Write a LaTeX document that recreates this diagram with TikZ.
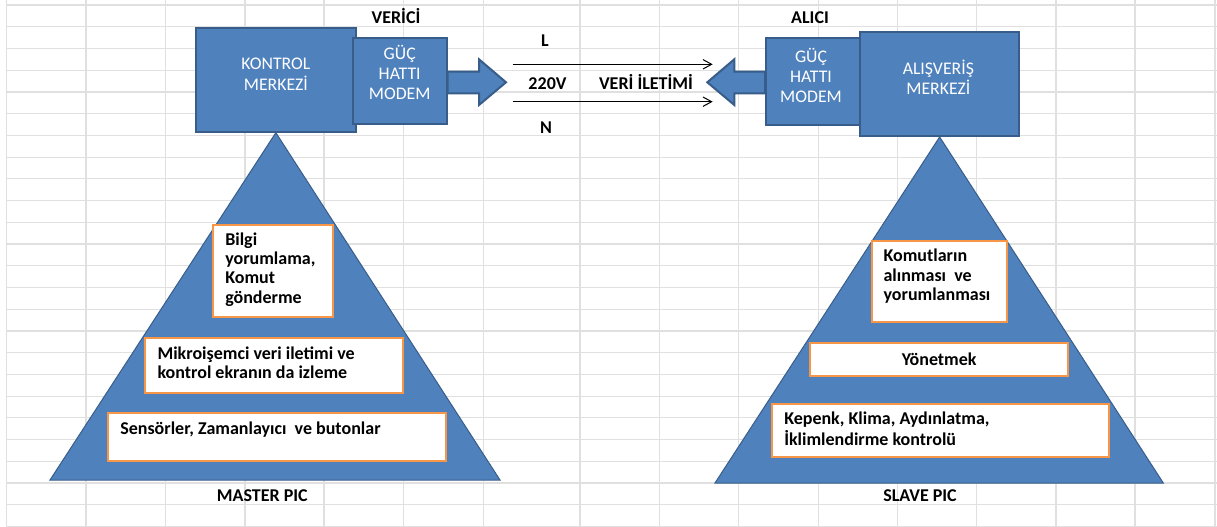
\documentclass[tikz,border=0pt]{standalone}
\usepackage{fontspec}
\setmainfont{Carlito}
\usetikzlibrary{arrows.meta,calc}
\definecolor{boxblue}{HTML}{4F81BD}
\definecolor{boxedge}{HTML}{385D8A}
\definecolor{orangeedge}{HTML}{F79646}
\definecolor{gridgray}{HTML}{E0E0E0}
\pgfdeclarelayer{sheet}
\pgfdeclarelayer{under}
\pgfsetlayers{sheet,under,main}
\begin{document}
\begin{tikzpicture}[x=0.75pt,y=-0.75pt,
  blueblock/.style={draw=boxedge, line width=1.5pt, fill=boxblue, inner sep=0pt},
  orangebox/.style={draw=orangeedge, line width=1.5pt, fill=white, inner sep=0pt},
  bluetext/.style={text=white, font=\fontsize{13.3}{15}\selectfont, inner sep=0pt, anchor=base},
  boxtext/.style={font=\bfseries\fontsize{13.5}{14.4}\selectfont, inner sep=0pt, anchor=base west},
  headtext/.style={font=\bfseries\fontsize{13.5}{14}\selectfont, inner sep=0pt, anchor=base},
  wire/.style={-{Straight Barb[length=6.5pt,width=7pt]}, line width=0.75pt},
  blockarrow/.style={draw=boxedge, line width=1.5pt, fill=boxblue, line join=miter},
  pyramid/.style={fill=boxblue, draw=boxedge, line width=0.75pt, line join=miter},
  sheetline/.style={draw=gridgray, line width=0.9pt}]

\useasboundingbox (0,0) rectangle (1217,527);

% spreadsheet cell grid
\begin{pgfonlayer}{sheet}
  \fill[white] (0,0) rectangle (1217,527);
  \foreach \gx in {6.7,86,165.7,245,324,403.3,483.3,580,659.3,738.3,818.3,897.3,976.7,1056,1135,1215}
    \draw[sheetline] ({\gx},0) -- ({\gx},527);
  \foreach \k in {0,...,24}
    \draw[sheetline] (6.7,{5+21.73*\k}) -- (1217,{5+21.73*\k});
\end{pgfonlayer}

% transmitter and receiver blocks
\node[blueblock, minimum width=119.8pt, minimum height=77.55pt] (kontrol) at (275.85,80) {};
\node[blueblock, minimum width=70.5pt, minimum height=64.3pt] (gucL) at (399.7,81.15) {};
\node[blueblock, minimum width=70.5pt, minimum height=65pt] (gucR) at (813,81.65) {};
\node[blueblock, minimum width=119.5pt, minimum height=78.2pt] (alis) at (939.65,83.85) {};

\node[bluetext] (kontrolT) at ([shift={(0,42.7)}]kontrol.north)
  {\begin{tabular}[t]{@{}c@{}}KONTROL\\MERKEZİ\end{tabular}};
\node[bluetext] (gucLT) at ([shift={(0,22.7)}]gucL.north)
  {\begin{tabular}[t]{@{}c@{}}GÜÇ\\HATTI\\MODEM\end{tabular}};
\node[bluetext] (gucRT) at ([shift={(-2,25.2)}]gucR.north)
  {\begin{tabular}[t]{@{}c@{}}GÜÇ\\HATTI\\MODEM\end{tabular}};
\node[bluetext] (alisT) at ([shift={(-1.3,43.6)}]alis.north)
  {\begin{tabular}[t]{@{}c@{}}ALIŞVERİŞ\\MERKEZİ\end{tabular}};

% block arrows out of the modems and pyramids under the centres
\begin{pgfonlayer}{under}
  \draw[blockarrow] ([shift={(0,-9.45)}]gucL.east) -- ++(31.3,0) -- ++(0,-12.4)
    -- ++(27,23) -- ++(-27,22.7) -- ++(0,-11.7) -- ++(-31.3,0) -- cycle;
  \draw[blockarrow] ([shift={(0,-9.95)}]gucR.west) -- ++(-30.7,0) -- ++(0,-12.4)
    -- ++(-27,23) -- ++(27,22.7) -- ++(0,-11.7) -- ++(30.7,0) -- cycle;
  \draw[pyramid] (kontrol.south) -- (500,480) -- (50,480) -- cycle;
  \draw[pyramid] (alis.south) -- (1163.3,483) -- (715,483) -- cycle;
\end{pgfonlayer}

% power line wires
\coordinate (Lstart) at (512.7,64.3);
\coordinate (Lend) at (712.7,64.3);
\coordinate (Nstart) at (512.7,101.7);
\coordinate (Nend) at (712.7,101.7);
\draw[wire] (Lstart) -- (Lend);
\draw[wire] (Nstart) -- (Nend);

% headings
\node[headtext] (verici) at (396,23.5) {VERİCİ};
\node[headtext] (alici) at (810,23.5) {ALICI};
\node[headtext] (Llbl) at (545,46.5) {L};
\node[headtext] (Nlbl) at (546,133.5) {N};
\node[headtext] (volt) at (547.5,89.5) {220V};
\node[headtext] (veri) at (646,89.5) {VERİ İLETİMİ};
\node[headtext] (master) at (262.3,501.5) {MASTER PIC};
\node[headtext] (slave) at (920,501.5) {SLAVE PIC};

% master layers
\node[orangebox, minimum width=90pt, minimum height=68.8pt] (bilgi) at (273.3,270.85) {};
\node[orangebox, minimum width=193.7pt, minimum height=40.8pt] (mikro) at (274.15,365.5) {};
\node[orangebox, minimum width=253pt, minimum height=35.6pt] (sensor) at (277,437) {};
\node[boxtext] (bilgiT) at ([shift={(12.7,21.5)}]bilgi.north west)
  {\begin{tabular}[t]{@{}l@{}}Bilgi\\yorumlama,\\Komut\\gönderme\end{tabular}};
\node[boxtext] (mikroT) at ([shift={(13.3,21.7)}]mikro.north west)
  {\begin{tabular}[t]{@{}l@{}}Mikroişemci veri iletimi ve\\kontrol ekranın da izleme\end{tabular}};
\node[boxtext] (sensorT) at ([shift={(12.7,22.2)}]sensor.north west)
  {Sensörler, Zamanlayıcı~ ve butonlar};

% slave layers
\node[orangebox, minimum width=101.7pt, minimum height=61.2pt] (komut) at (939.5,281.5) {};
\node[orangebox, minimum width=193.7pt, minimum height=24.5pt,
  font=\bfseries\fontsize{13.5}{14.4}\selectfont] (yonet) at (939.15,359.65) {Yönetmek};
\node[orangebox, minimum width=253pt, minimum height=40pt] (kepenk) at (940.35,430.65) {};
\node[boxtext] (komutT) at ([shift={(12.6,22.3)}]komut.north west)
  {\begin{tabular}[t]{@{}l@{}}Komutların\\alınması~ ve\\yorumlanması\end{tabular}};
\node[boxtext] (kepenkT) at ([shift={(13.3,22)}]kepenk.north west)
  {\begin{tabular}[t]{@{}l@{}}Kepenk, Klima, Aydınlatma,\\İklimlendirme kontrolü\end{tabular}};

\end{tikzpicture}
\end{document}
